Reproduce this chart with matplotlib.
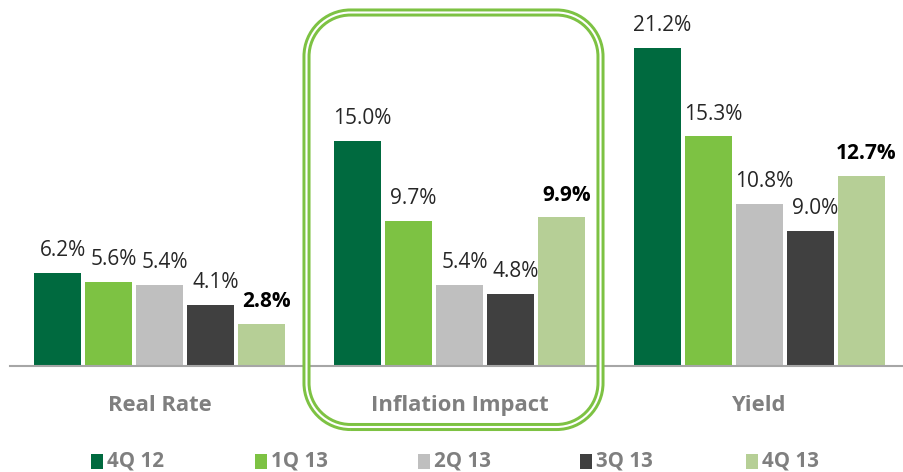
import matplotlib
matplotlib.use("Agg")
import matplotlib.pyplot as plt
from matplotlib.patches import PathPatch, Rectangle
from matplotlib.path import Path
from matplotlib.transforms import IdentityTransform
import numpy as np

categories = ["Real Rate", "Inflation Impact", "Yield"]
series_names = ["4Q 12", "1Q 13", "2Q 13", "3Q 13", "4Q 13"]
q4_12 = [6.2, 15.0, 21.2]
q1_13 = [5.6, 9.7, 15.3]
q2_13 = [5.4, 5.4, 10.8]
q3_13 = [4.1, 4.8, 9.0]
q4_13 = [2.8, 9.9, 12.7]
series_values = [q4_12, q1_13, q2_13, q3_13, q4_13]

colors = ["#006A3F", "#7DC243", "#BFBFBF", "#404040", "#B6CF96"]
bold_series = [False, False, False, False, True]

W, H, DPI = 904, 472, 100
fig = plt.figure(figsize=(W / DPI, H / DPI), dpi=DPI)
plt.rcParams["font.family"] = ["Open Sans", "DejaVu Sans"]

# axes placed in pixel units: baseline at y=366 px from top
left_px, right_px, top_px, base_px = 10, 904, 0, 366
ax = fig.add_axes([left_px / W, (H - base_px) / H,
                   (right_px - left_px) / W, (base_px - top_px) / H])
ax.set_xlim(-0.5, -0.5 + 3.0 * (right_px - left_px) / 899)
ax.set_ylim(0, (base_px - top_px) / 15.0)

x = np.arange(len(categories))
step, width = 0.17, 0.157
for i, (vals, col, bold) in enumerate(zip(series_values, colors, bold_series)):
    pos = x + (i - 2) * step
    ax.bar(pos, vals, width=width, color=col, zorder=2)
    for px, v in zip(pos, vals):
        ax.annotate(f"{v:.1f}%", (px, v), xytext=(3.6, 8.5), textcoords="offset points",
                    ha="center", va="bottom", fontsize=15,
                    fontweight="bold" if bold else "normal",
                    color="#000000" if bold else "#262626")

for s in ["top", "right", "left"]:
    ax.spines[s].set_visible(False)
ax.spines["bottom"].set_color("#A6A6A6")
ax.spines["bottom"].set_linewidth(1.5)
ax.set_yticks([])
ax.set_xticks([])

# category labels
for xi, cat in zip(x, categories):
    ax.annotate(cat, (xi, 0), xytext=(0, -28.5), textcoords="offset points",
                ha="center", va="center", fontsize=15.8, fontweight="bold",
                color="#7F7F7F", annotation_clip=False)


def rounded_rect(x0, y0, x1, y1, r):
    """Closed rectangle path with circular-arc corners (cubic approximation)."""
    k = 0.5523 * r
    verts = [
        (x0 + r, y0), (x1 - r, y0),
        (x1 - r + k, y0), (x1, y0 + r - k), (x1, y0 + r),
        (x1, y1 - r),
        (x1, y1 - r + k), (x1 - r + k, y1), (x1 - r, y1),
        (x0 + r, y1),
        (x0 + r - k, y1), (x0, y1 - r + k), (x0, y1 - r),
        (x0, y0 + r),
        (x0, y0 + r - k), (x0 + r - k, y0), (x0 + r, y0),
    ]
    codes = [Path.MOVETO, Path.LINETO,
             Path.CURVE4, Path.CURVE4, Path.CURVE4,
             Path.LINETO,
             Path.CURVE4, Path.CURVE4, Path.CURVE4,
             Path.LINETO,
             Path.CURVE4, Path.CURVE4, Path.CURVE4,
             Path.LINETO,
             Path.CURVE4, Path.CURVE4, Path.CURVE4]
    return Path(verts, codes)


# double rounded outline around the middle group (display pixels)
idt = IdentityTransform()
bx0, bx1, by_top, by_bot = 306.5, 600.5, 12.5, 427
outline = rounded_rect(bx0, H - by_bot, bx1, H - by_top, 44)
for lw, col in [(5.8, "#7DC243"), (1.5, "white")]:
    fig.add_artist(PathPatch(outline, transform=idt, fill=False, edgecolor=col,
                             linewidth=lw, zorder=5))

# legend
leg_sq_x = [91, 255, 418, 580, 746]
leg_y = 461
for sx, name, col in zip(leg_sq_x, series_names, colors):
    fig.add_artist(Rectangle((sx, H - leg_y - 7.5), 12, 15, transform=idt,
                             facecolor=col, edgecolor="none"))
    fig.text((sx + 16) / W, (H - leg_y) / H, name, ha="left", va="center",
             fontsize=14.8, fontweight="bold", color="#7F7F7F")

fig.savefig("out.png", dpi=DPI)
